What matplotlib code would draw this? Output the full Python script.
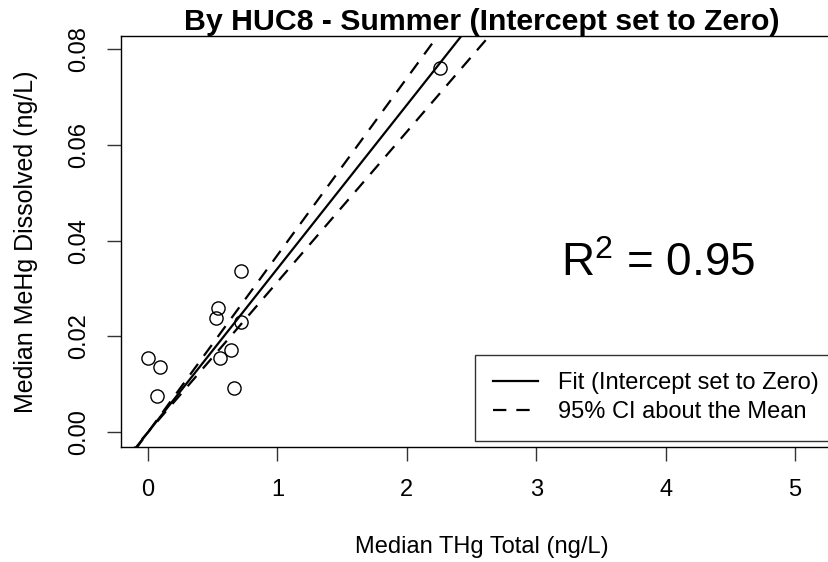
import matplotlib
matplotlib.use("Agg")
import matplotlib.pyplot as plt
import numpy as np

# median values by HUC8, summer
thg_total = [0.003, 0.067, 0.095, 0.525, 0.543, 0.556, 0.641, 0.667, 0.716, 0.719, 2.257]
mehg_dissolved = [0.0156, 0.0076, 0.0136, 0.0239, 0.0259, 0.0155, 0.0171, 0.0093, 0.0231, 0.0337, 0.0761]

# fit through the origin and half width of the 95% CI on the slope
fit_slope = 0.0342
ci_half = 0.0028
r2_label = "0.95"

plt.rcParams['font.family'] = ['Liberation Sans', 'DejaVu Sans']
plt.rcParams['mathtext.fontset'] = 'custom'
plt.rcParams['mathtext.rm'] = 'Liberation Sans'

fig = plt.figure(figsize=(8.29, 5.62), dpi=100)
ax = fig.add_axes([0.146, 0.2046, 0.8697, 0.7313])

xx = np.array([-1.0, 6.0])
ax.plot(xx, fit_slope * xx, color='black', lw=1.6, label='Fit (Intercept set to Zero)')
ax.plot(xx, (fit_slope + ci_half) * xx, color='black', lw=1.6, dashes=(6, 4.5),
        label='95% CI about the Mean')
ax.plot(xx, (fit_slope - ci_half) * xx, color='black', lw=1.6, dashes=(6, 4.5))
ax.plot(thg_total, mehg_dissolved, 'o', mfc='none', mec='black', ms=9.5, mew=1.0)

ax.set_xlim(-0.2087, 5.363)
ax.set_ylim(-0.0031, 0.0828)
ax.set_xticks([0, 1, 2, 3, 4, 5])
ax.set_yticks([0.00, 0.02, 0.04, 0.06, 0.08])
ax.set_yticklabels(['0.00', '0.02', '0.04', '0.06', '0.08'], rotation=90, va='center')
ax.tick_params(length=10, width=1, labelsize=17, color='#333333')
ax.tick_params(axis='y', pad=12)
ax.tick_params(axis='x', pad=13)
for sp in ax.spines.values():
    sp.set_linewidth(1.0)

ax.set_xlabel('Median THg Total (ng/L)', fontsize=17, labelpad=25)
ax.set_ylabel('Median MeHg Dissolved (ng/L)', fontsize=18, labelpad=22)
fig.text(482 / 829, 1 - 30 / 562, 'By HUC8 - Summer (Intercept set to Zero)',
         fontsize=21.8, fontweight='bold', ha='center', va='baseline')

ax.text(3.94, 0.0326, r'R$^{\mathrm{2}}$ = ' + r2_label, fontsize=33, ha='center', va='baseline')

leg = ax.legend(loc='lower right', fontsize=17, handlelength=1.9, handletextpad=0.85,
                frameon=True, fancybox=False, borderpad=0.75, labelspacing=0.3,
                borderaxespad=0.25)
leg.get_frame().set_edgecolor('black')
leg.get_frame().set_linewidth(1.0)

fig.savefig('out.png', dpi=100)
